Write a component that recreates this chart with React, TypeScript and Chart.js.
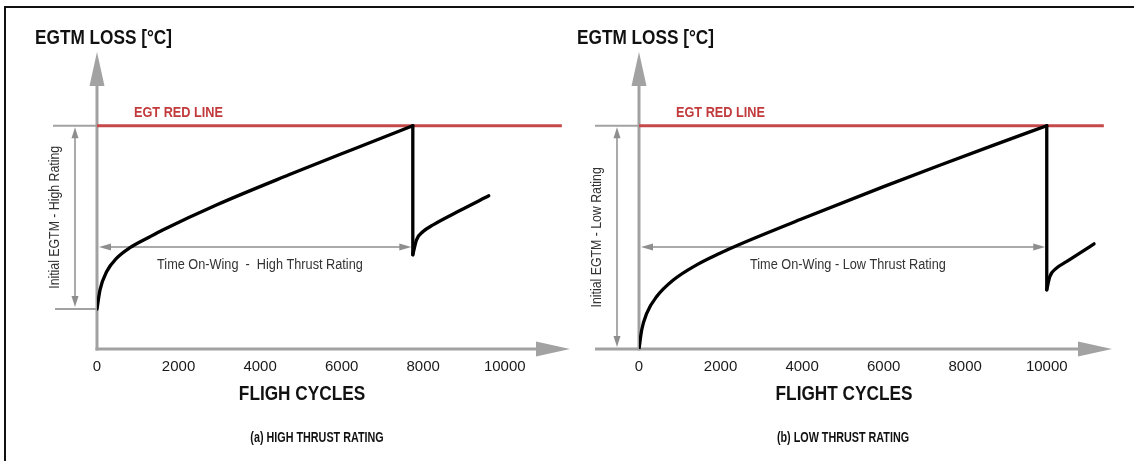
import React, { useEffect, useRef } from "react";
import { Chart, registerables } from "chart.js";

Chart.register(...registerables);

// ---------- data ----------
const X_TICKS = [0, 2000, 4000, 6000, 8000, 10000];
const X_MAX = 11600;
const Y_MAX = 133;
const RED_LINE = 100;
const RED_LINE_END = 11400;
const TOW_LEVEL = 45.7;

// (a) high thrust rating
const HIGH_RISE_X = [0, 74, 238, 483, 809, 1299, 1625, 2941, 4706, 6299, 7745];
const HIGH_RISE_Y = [17.9, 26.5, 34.7, 40.7, 45.4, 50.3, 53.4, 64.6, 78.0, 89.6, 100];
const HIGH_RECOVER_X = [7745, 7836, 7997, 8243, 8900, 9608];
const HIGH_RECOVER_Y = [42.2, 48.9, 52.6, 55.6, 62.0, 68.6];

// (b) low thrust rating
const LOW_RISE_X = [0, 66, 189, 434, 841, 1414, 1985, 2434, 4000, 6000, 7377, 8700, 10000];
const LOW_RISE_Y = [0, 8.5, 16.0, 23.5, 30.9, 37.7, 42.9, 46.6, 58.3, 72.7, 82.3, 91.3, 100];
const LOW_RECOVER_X = [10000, 10074, 10238, 10483, 10800, 11160];
const LOW_RECOVER_Y = [26.5, 32.4, 36.2, 39.1, 42.8, 47.1];

// ---------- styles ----------
const FONT = '"Liberation Sans", Arial, sans-serif';
const NARROW = 0.82;
const AXIS = "#a2a2a2";
const THIN = "#8e8e8e";
const RED = "#c5484a";
const RED_TEXT = "#c23a3c";

type Panel = {
  canvasLeft: number;
  canvasWidth: number;
  padLeft: number;
  padRight: number;
  riseX: number[];
  riseY: number[];
  recX: number[];
  recY: number[];
  extendAxis: boolean;
  yNote: string;
  towLabel: string;
  xTitle: string;
  caption: string;
  captionShift: number;
};

const PANELS: Panel[] = [
  {
    canvasLeft: 0,
    canvasWidth: 585,
    padLeft: 97,
    padRight: 15,
    riseX: HIGH_RISE_X,
    riseY: HIGH_RISE_Y,
    recX: HIGH_RECOVER_X,
    recY: HIGH_RECOVER_Y,
    extendAxis: false,
    yNote: "Initial EGTM - High Rating",
    towLabel: "Time On-Wing  -  High Thrust Rating",
    xTitle: "FLIGH CYCLES",
    caption: "(a) HIGH THRUST RATING",
    captionShift: 220,
  },
  {
    canvasLeft: 560,
    canvasWidth: 574,
    padLeft: 79,
    padRight: 22,
    riseX: LOW_RISE_X,
    riseY: LOW_RISE_Y,
    recX: LOW_RECOVER_X,
    recY: LOW_RECOVER_Y,
    extendAxis: true,
    yNote: "Initial EGTM - Low Rating",
    towLabel: "Time On-Wing - Low Thrust Rating",
    xTitle: "FLIGHT CYCLES",
    caption: "(b) LOW THRUST RATING",
    captionShift: 204,
  },
];

function line(ctx: CanvasRenderingContext2D, x1: number, y1: number, x2: number, y2: number) {
  ctx.beginPath();
  ctx.moveTo(x1, y1);
  ctx.lineTo(x2, y2);
  ctx.stroke();
}

function head(
  ctx: CanvasRenderingContext2D,
  tx: number,
  ty: number,
  dx: number,
  dy: number,
  len: number,
  half: number
) {
  const bx = tx - dx * len;
  const by = ty - dy * len;
  const px = -dy;
  const py = dx;
  ctx.beginPath();
  ctx.moveTo(tx, ty);
  ctx.lineTo(bx + px * half, by + py * half);
  ctx.lineTo(bx - px * half, by - py * half);
  ctx.closePath();
  ctx.fill();
}

// condensed text (Arial Narrow look) drawn as real canvas text
function text(
  ctx: CanvasRenderingContext2D,
  s: string,
  x: number,
  y: number,
  font: string,
  color: string,
  align: CanvasTextAlign = "left",
  rotate = 0,
  baseline: CanvasTextBaseline = "alphabetic",
  squeeze = NARROW
) {
  ctx.save();
  ctx.translate(x, y);
  if (rotate) ctx.rotate(rotate);
  ctx.scale(squeeze, 1);
  ctx.font = font;
  ctx.fillStyle = color;
  ctx.textAlign = align;
  ctx.textBaseline = baseline;
  ctx.fillText(s, 0, 0);
  ctx.restore();
}

function decoPlugin(p: Panel) {
  const peakX = p.riseX[p.riseX.length - 1];
  const geom = (chart: any) => {
    const xs = chart.scales.x;
    const ys = chart.scales.y;
    return {
      x0: xs.getPixelForValue(0),
      y0: ys.getPixelForValue(0),
      yTop: ys.getPixelForValue(Y_MAX),
      xEnd: xs.getPixelForValue(X_MAX),
      yRed: ys.getPixelForValue(RED_LINE),
      yInit: ys.getPixelForValue(p.riseY[0]),
      xPeak: xs.getPixelForValue(peakX),
      yTow: ys.getPixelForValue(TOW_LEVEL),
    };
  };
  return {
    id: "deco",
    beforeDatasetsDraw(chart: any) {
      const ctx: CanvasRenderingContext2D = chart.ctx;
      const g = geom(chart);
      ctx.save();
      ctx.strokeStyle = AXIS;
      ctx.fillStyle = AXIS;
      ctx.lineWidth = 3;
      // y axis with arrow
      line(ctx, g.x0, g.y0 + 1.5, g.x0, g.yTop + 28);
      head(ctx, g.x0, g.yTop, 0, -1, 34, 7.5);
      // x axis with arrow
      const xStart = p.extendAxis ? g.x0 - 44 : g.x0 - 1.5;
      line(ctx, xStart, g.y0, g.xEnd - 28, g.y0);
      head(ctx, g.xEnd, g.y0, 1, 0, 34, 7.5);
      // guide ticks
      ctx.lineWidth = 2;
      line(ctx, g.x0 - 44, g.yRed, g.x0, g.yRed);
      line(ctx, g.x0 - 42, g.yInit, g.x0, g.yInit);
      // vertical double arrow
      ctx.strokeStyle = THIN;
      ctx.fillStyle = THIN;
      ctx.lineWidth = 1.5;
      const ax = g.x0 - 22;
      line(ctx, ax, g.yRed + 8, ax, g.yInit - 8);
      head(ctx, ax, g.yRed + 1.5, 0, -1, 11, 3.5);
      head(ctx, ax, g.yInit - 2, 0, 1, 11, 3.5);
      // horizontal double arrow (time on wing)
      line(ctx, g.x0 + 8, g.yTow, g.xPeak - 8, g.yTow);
      head(ctx, g.x0 + 2, g.yTow, -1, 0, 12, 3.5);
      head(ctx, g.xPeak - 1.5, g.yTow, 1, 0, 12, 3.5);
      ctx.restore();
    },
    afterDraw(chart: any) {
      const ctx: CanvasRenderingContext2D = chart.ctx;
      const g = geom(chart);
      text(ctx, "EGTM LOSS [°C]", g.x0 - 62, 44, `bold 21px ${FONT}`, "#111");
      text(ctx, "EGT RED LINE", g.x0 + 37, g.yRed - 9, `bold 15.5px ${FONT}`, RED_TEXT);
      text(
        ctx,
        p.yNote,
        g.x0 - 42,
        (g.yRed + g.yInit) / 2,
        `15px ${FONT}`,
        "#333",
        "center",
        -Math.PI / 2,
        "middle"
      );
      text(ctx, p.towLabel, (g.x0 + g.xPeak) / 2 + 5, g.yTow + 22, `15.5px ${FONT}`, "#333", "center");
      text(ctx, p.xTitle, g.x0 + 205, 400, `bold 21px ${FONT}`, "#111", "center");
      text(ctx, p.caption, g.x0 + p.captionShift, 442, `bold 14px ${FONT}`, "#111", "center", 0, "alphabetic", 0.77);
    },
  };
}

function buildChart(canvas: HTMLCanvasElement, p: Panel) {
  const pts = (xs: number[], ys: number[]) => xs.map((x, i) => ({ x, y: ys[i] }));
  const peakX = p.riseX[p.riseX.length - 1];
  const rise = pts(p.riseX, p.riseY);
  const drop = [
    { x: peakX, y: RED_LINE },
    { x: peakX, y: p.recY[0] },
  ];
  const rec = pts(p.recX, p.recY);
  const red = [
    { x: 0, y: RED_LINE },
    { x: RED_LINE_END, y: RED_LINE },
  ];
  const curve: any = {
    borderColor: "#000",
    borderWidth: 3.3,
    pointRadius: 0,
    fill: false,
    cubicInterpolationMode: "monotone",
    borderCapStyle: "round",
    borderJoinStyle: "round",
    order: 0,
  };
  return new Chart(canvas, {
    type: "line",
    data: {
      datasets: [
        { data: red, borderColor: RED, borderWidth: 3, pointRadius: 0, tension: 0, order: 5 } as any,
        { data: rise, ...curve },
        { data: drop, ...curve, cubicInterpolationMode: "default", tension: 0 },
        { data: rec, ...curve },
      ],
    },
    options: {
      animation: false,
      responsive: false,
      events: [],
      layout: { padding: { left: p.padLeft, right: p.padRight, top: 52, bottom: 0 } },
      plugins: {
        legend: { display: false },
        tooltip: { enabled: false },
      },
      scales: {
        x: {
          type: "linear",
          min: 0,
          max: X_MAX,
          grid: { display: false, drawTicks: false },
          border: { display: false },
          afterBuildTicks: (s: any) => {
            s.ticks = X_TICKS.map((v) => ({ value: v }));
          },
          afterFit: (s: any) => {
            s.height = 112;
          },
          ticks: {
            font: { family: FONT, size: 15 },
            color: "#1a1a1a",
            padding: 9,
            maxRotation: 0,
            autoSkip: false,
            callback: (v: any) => String(v),
          },
        },
        y: { type: "linear", min: 0, max: Y_MAX, display: false },
      },
    } as any,
    plugins: [decoPlugin(p)],
  });
}

export default function App() {
  const leftRef = useRef<HTMLCanvasElement>(null);
  const rightRef = useRef<HTMLCanvasElement>(null);
  useEffect(() => {
    const canvases = [leftRef.current, rightRef.current];
    const charts = canvases.map((c, i) => buildChart(c as HTMLCanvasElement, PANELS[i]));
    return () => charts.forEach((c) => c.destroy());
  }, []);
  return (
    <div
      style={{
        position: "fixed",
        left: 0,
        top: 0,
        width: 1134,
        height: 461,
        overflow: "hidden",
        background: "#fff",
      }}
    >
      <div
        style={{
          position: "absolute",
          left: 4,
          top: 6,
          width: 1200,
          height: 500,
          border: "2px solid #111",
        }}
      />
      {PANELS.map((p, i) => (
        <canvas
          key={i}
          ref={i === 0 ? leftRef : rightRef}
          width={p.canvasWidth}
          height={461}
          style={{ position: "absolute", left: p.canvasLeft, top: 0, width: p.canvasWidth, height: 461 }}
        />
      ))}
    </div>
  );
}
